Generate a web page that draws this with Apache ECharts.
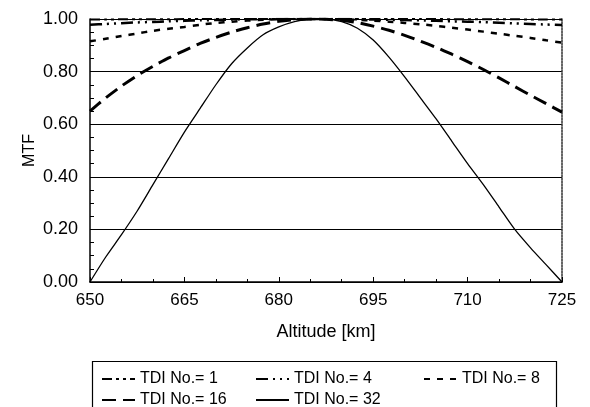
<!DOCTYPE html>
<html>
<head>
<meta charset="utf-8">
<title>MTF vs Altitude</title>
<script src="https://cdn.jsdelivr.net/npm/echarts@6/dist/echarts.min.js"></script>
<style>
  html, body { margin: 0; padding: 0; background: #fff; }
  #main { width: 590px; height: 407px; }
</style>
</head>
<body>
<div id="main"></div>
<script>
// altitude [km]
var altitude = [650, 652.5, 655, 657.5, 660, 662.5, 665, 667.5, 670, 672.5, 675, 677.5, 680, 682.5, 685,
  687.5, 690, 692.5, 695, 697.5, 700, 702.5, 705, 707.5, 710, 712.5, 715, 717.5, 720, 722.5, 725];

// MTF
var tdi1 = [0.998, 0.998, 0.999, 0.999, 0.999, 0.999, 1.0, 1.0, 1.0, 1.0, 1.0, 1.0, 1.0, 1.0, 1.0,
  1.0, 1.0, 1.0, 1.0, 1.0, 1.0, 1.0, 1.0, 0.999, 0.999, 0.999, 0.999, 0.999, 0.998, 0.998, 0.998];
var tdi4 = [0.978, 0.981, 0.984, 0.987, 0.989, 0.991, 0.993, 0.995, 0.996, 0.998, 0.999, 0.999, 1.0, 1.0, 1.0,
  1.0, 1.0, 0.999, 0.998, 0.997, 0.996, 0.995, 0.993, 0.991, 0.99, 0.988, 0.986, 0.983, 0.981, 0.979, 0.977];
var tdi8 = [0.915, 0.925, 0.935, 0.945, 0.955, 0.963, 0.97, 0.978, 0.985, 0.99, 0.994, 0.997, 0.999, 1.0, 1.0,
  1.0, 0.999, 0.997, 0.994, 0.99, 0.985, 0.98, 0.974, 0.967, 0.96, 0.952, 0.944, 0.936, 0.928, 0.919, 0.91];
var tdi16 = [0.65, 0.70, 0.745, 0.785, 0.82, 0.852, 0.88, 0.907, 0.93, 0.95, 0.967, 0.981, 0.991, 0.997, 1.0,
  0.999, 0.995, 0.986, 0.973, 0.957, 0.938, 0.916, 0.892, 0.866, 0.838, 0.808, 0.776, 0.743, 0.71, 0.678, 0.646];
var tdi32 = [0.0, 0.095, 0.18, 0.27, 0.37, 0.47, 0.57, 0.66, 0.75, 0.83, 0.89, 0.94, 0.97, 0.99, 1.0,
  1.0, 0.99, 0.965, 0.92, 0.855, 0.78, 0.70, 0.62, 0.535, 0.45, 0.37, 0.285, 0.20, 0.13, 0.065, 0.0];

var seriesNames = ['TDI No.= 1', 'TDI No.= 4', 'TDI No.= 8', 'TDI No.= 16', 'TDI No.= 32'];

function pairs(ys) {
  return altitude.map(function (x, i) { return [x, ys[i]]; });
}

var myChart = echarts.init(document.getElementById('main'), null, { renderer: 'canvas' });
var font = 'Liberation Sans, Arial, sans-serif';

function line(name, ys, type, width) {
  return {
    name: name,
    type: 'line',
    data: pairs(ys),
    symbol: 'none',
    smooth: 0.25,
    color: '#000',
    lineStyle: { color: '#000', width: width, type: type }
  };
}

// one legend per item so the columns line up like the original box
function legendItem(name, left, top) {
  return {
    left: left,
    top: top,
    itemWidth: 33,
    itemHeight: 14,
    itemGap: 4,
    textStyle: { color: '#000', fontFamily: font, fontSize: 16 },
    itemStyle: { opacity: 0, borderWidth: 0 },
    selectedMode: false,
    data: [name]
  };
}

var option = {
  backgroundColor: '#fff',
  animation: false,
  textStyle: { fontFamily: font, color: '#000' },
  grid: { left: 90, right: 28, top: 19, bottom: 125 },
  xAxis: {
    type: 'value',
    min: 650,
    max: 725,
    interval: 15,
    name: 'Altitude [km]',
    nameLocation: 'middle',
    nameGap: 41,
    nameMoveOverlap: false,
    nameTextStyle: { fontSize: 18, color: '#000', fontFamily: font },
    axisLine: { lineStyle: { color: '#000', width: 1.5 } },
    axisTick: { inside: true, length: 5, lineStyle: { color: '#000' } },
    minorTick: { show: true, splitNumber: 3, length: 3, lineStyle: { color: '#000' } },
    axisLabel: { fontSize: 17, color: '#000', margin: 10, fontFamily: font },
    splitLine: { show: false }
  },
  yAxis: [{
    type: 'value',
    min: 0,
    max: 1,
    interval: 0.2,
    name: 'MTF',
    nameLocation: 'middle',
    nameGap: 52,
    nameMoveOverlap: false,
    nameRotate: 90,
    nameTextStyle: { fontSize: 16, color: '#000', fontFamily: font },
    axisLine: { show: true, lineStyle: { color: '#000', width: 1.5 } },
    axisTick: { show: true, inside: true, length: 4, lineStyle: { color: '#000' } },
    minorTick: { show: true, splitNumber: 4, length: 4, lineStyle: { color: '#000' } },
    axisLabel: {
      fontSize: 18, color: '#000', margin: 12, fontFamily: font,
      formatter: function (v) { return v.toFixed(2); }
    },
    splitLine: { show: true, lineStyle: { color: '#000', width: 1 } }
  }, {
    type: 'value',
    min: 0,
    max: 1,
    position: 'right',
    axisLine: { show: true, lineStyle: { color: '#333', width: 1.5, type: [2, 1] } },
    axisTick: { show: false },
    axisLabel: { show: false },
    splitLine: { show: false }
  }],
  legend: [
    legendItem(seriesNames[0], 96, 366),
    legendItem(seriesNames[1], 250, 366),
    legendItem(seriesNames[2], 418, 366),
    legendItem(seriesNames[3], 96, 387),
    legendItem(seriesNames[4], 250, 387)
  ],
  graphic: [{
    type: 'rect',
    left: 90,
    top: 359,
    shape: { width: 464, height: 60 },
    style: { fill: 'none', stroke: '#000', lineWidth: 1.2 },
    silent: true
  }],
  series: [
    line(seriesNames[0], tdi1, [10, 4, 3, 4, 3, 4], 2),
    line(seriesNames[1], tdi4, [12, 5, 2, 5, 2, 5], 2.5),
    line(seriesNames[2], tdi8, [6, 7], 2.5),
    line(seriesNames[3], tdi16, [14, 7], 3),
    line(seriesNames[4], tdi32, 'solid', 1.3)
  ]
};

myChart.setOption(option);
window.addEventListener('resize', function () {
  myChart.resize();
});
</script>
</body>
</html>
